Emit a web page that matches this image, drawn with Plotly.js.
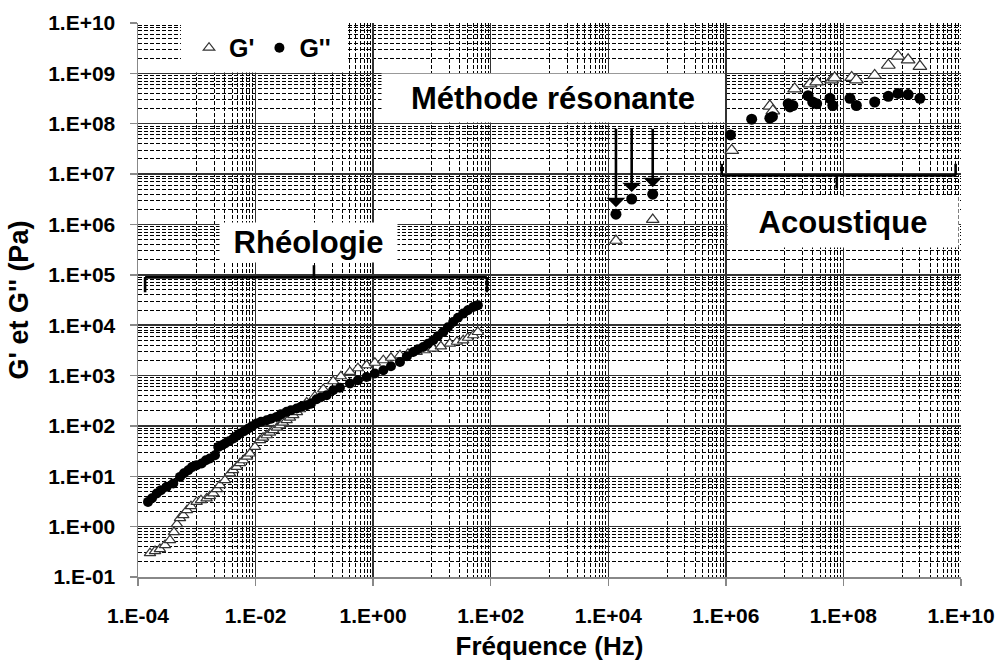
<!DOCTYPE html>
<html>
<head>
<meta charset="utf-8">
<script src="https://cdn.plot.ly/plotly-3.0.1.min.js"></script>
<style>html,body{margin:0;padding:0;background:#fff;}#chart{width:999px;height:661px;}</style>
</head>
<body>
<div id="chart"></div>
<script>
// ---- Rheology (G') ----
const rheoFreqGp = [1.60e-4,1.95e-4,2.36e-4,2.88e-4,3.50e-4,4.09e-4,4.60e-4,5.18e-4,5.89e-4,6.81e-4,7.96e-4,9.95e-4,
  1.18e-3,1.47e-3,1.67e-3,1.91e-3,2.21e-3,2.48e-3,3.02e-3,3.67e-3,4.13e-3,4.78e-3,5.43e-3,6.18e-3,7.14e-3,8.04e-3,9.78e-3,
  1.19e-2,1.34e-2,1.55e-2,1.76e-2,2.00e-2,2.31e-2,2.60e-2,2.92e-2,3.38e-2,3.85e-2,4.38e-2,5.06e-2,5.69e-2,7.40e-2,
  0.102,0.142,0.209,0.283,0.403,0.551,0.774,1.07,1.49,2.01,2.86,3.91,5.50,7.60,10.5,14.2,20.2,26.6,34.0,40.9,50.4,60.5];
const rheoGp = [0.298,0.327,0.358,0.430,0.540,0.778,1.12,1.48,1.69,2.12,2.55,3.10,
  3.36,3.63,4.03,4.56,5.55,6.66,8.37,11.4,13.2,15.4,18.2,20.8,24.5,28.3,38.3,
  52.0,58.3,65.3,73.3,82.2,92.1,103,116,130,146,163,187,214,292,
  388,535,771,968,1178,1396,1600,1795,2014,2255,2529,2710,2938,3177,3436,3811,4315,4688,5012,5623,6310,7328];
// ---- Rheology (G'') ----
const rheoFreqGpp = [1.48e-4,1.73e-4,2.08e-4,2.46e-4,3.08e-4,3.98e-4,5.18e-4,6.05e-4,7.16e-4,8.28e-4,9.95e-4,
  1.21e-3,1.43e-3,1.67e-3,2.04e-3,2.32e-3,2.69e-3,3.02e-3,3.53e-3,4.18e-3,4.83e-3,5.43e-3,6.35e-3,7.52e-3,8.69e-3,
  1.04e-2,1.24e-2,1.55e-2,1.83e-2,2.29e-2,2.70e-2,3.38e-2,4.00e-2,5.00e-2,5.92e-2,7.40e-2,8.75e-2,
  0.109,0.129,0.162,0.209,0.272,0.403,0.551,0.774,1.07,1.49,2.01,2.86,3.76,4.81,5.78,7.11,8.55,
  10.5,12.6,15.6,18.7,23.0,27.7,34.0,40.9,50.4,60.5];
const rheoGpp = [3.10,3.67,4.56,5.30,6.16,7.19,9.72,11.5,13.2,15.2,16.6,
  17.9,20.8,22.5,26.2,38.3,41.4,44.8,49.7,56.2,64.0,70.7,78.5,88.7,98.6,
  112,121,130,139,151,171,190,205,221,240,258,276,
  339,371,406,511,573,693,807,938,1096,1274,1530,1862,2415,2938,3327,3690,4275,
  5012,6026,7328,9078,11560,14030,16980,19770,22970,24830];
// ---- Resonant method ----
const resoFreqGp = [1.35e4, 5.7e4];
const resoGp = [4.8e5, 1.25e6];
const resoFreqGpp = [1.35e4, 2.5e4, 5.7e4];
const resoGpp = [1.6e6, 3.2e6, 4.0e6];
// ---- Acoustics ----
const acouFreqGp = [1.26e6,5.6e6,6.3e6,1.48e7,2.7e7,3.5e7,6.3e7,7.1e7,1.38e8,1.66e8,3.4e8,5.8e8,8.5e8,1.26e9,2.0e9];
const acouGp = [2.95e7,2.24e8,1.8e8,4.9e8,6.2e8,6.8e8,7.4e8,8.1e8,8.3e8,7.4e8,9.1e8,1.45e9,2.2e9,1.86e9,1.38e9];
const acouFreqGpp = [1.2e6,2.75e6,5.6e6,6.2e6,1.15e7,1.23e7,1.38e7,2.5e7,3.0e7,3.5e7,5.9e7,6.6e7,1.29e8,1.66e8,3.4e8,5.8e8,8.5e8,1.26e9,2.0e9];
const acouGpp = [6.0e7,1.23e8,1.29e8,1.38e8,2.5e8,2.15e8,2.3e8,3.6e8,2.7e8,2.5e8,3.2e8,2.3e8,3.2e8,2.3e8,2.7e8,3.5e8,4.0e8,3.8e8,3.2e8];
// ---- Tick labels ----
const xTickVals = [1e-4,1e-2,1e0,1e2,1e4,1e6,1e8,1e10];
const xTickText = ['1.E-04','1.E-02','1.E+00','1.E+02','1.E+04','1.E+06','1.E+08','1.E+10'];
const yTickVals = [1e-1,1e0,1e1,1e2,1e3,1e4,1e5,1e6,1e7,1e8,1e9,1e10];
const yTickText = ['1.E-01','1.E+00','1.E+01','1.E+02','1.E+03','1.E+04','1.E+05','1.E+06','1.E+07','1.E+08','1.E+09','1.E+10'];

// minor grid positions
const xMinor = [];
[-3,-1,1,3,5,7,9].forEach(d => { for (let k=1;k<=9;k++) xMinor.push(k*Math.pow(10,d)); });
const yMinor = [];
for (let d=-1; d<=9; d++) { for (let k=2;k<=9;k++) yMinor.push(k*Math.pow(10,d)); }

const FONT = 'Liberation Sans, Arial, Helvetica, sans-serif';
const triMarker = (s) => ({symbol:'triangle-up', size:s, color:'#ffffff', line:{color:'#333333', width:1.2}});
const dotMarker = (s) => ({symbol:'circle', size:s, color:'#000000', line:{width:0}});

const traces = [
  {x:rheoFreqGp, y:rheoGp, mode:'markers', type:'scatter', name:"G'", legendgroup:'gp', marker:triMarker(10), cliponaxis:false},
  {x:rheoFreqGpp, y:rheoGpp, mode:'markers', type:'scatter', name:"G''", legendgroup:'gpp', marker:dotMarker(10), cliponaxis:false},
  {x:resoFreqGp, y:resoGp, mode:'markers', type:'scatter', name:"G'", legendgroup:'gp', showlegend:false, marker:triMarker(11)},
  {x:resoFreqGpp, y:resoGpp, mode:'markers', type:'scatter', name:"G''", legendgroup:'gpp', showlegend:false, marker:dotMarker(11)},
  {x:acouFreqGp, y:acouGp, mode:'markers', type:'scatter', name:"G'", legendgroup:'gp', showlegend:false, marker:triMarker(12)},
  {x:acouFreqGpp, y:acouGpp, mode:'markers', type:'scatter', name:"G''", legendgroup:'gpp', showlegend:false, marker:dotMarker(11)}
];

const L = Math.log10;
const arrowTop = 8.5e7;
const annotations = resoFreqGpp.map((f,i) => ({
  x: L(f), y: L(resoGpp[i]), xref:'x', yref:'y', ax: L(f), ay: L(arrowTop), axref:'x', ayref:'y',
  text:'', showarrow:true, arrowhead:1, arrowsize:1.2, arrowwidth:2.6, arrowcolor:'#000', standoff:7
}));
const labelFont = {family:FONT, size:31, color:'#000', weight:'bold'};
annotations.push(
  {xref:'paper', yref:'paper', x:0.504, y:0.8647, text:'Méthode résonante', showarrow:false, font:labelFont,
   bgcolor:'#ffffff', width:340, height:46, borderpad:1, xanchor:'center', yanchor:'middle'},
  {xref:'paper', yref:'paper', x:0.2071, y:0.6032, text:'Rhéologie', showarrow:false, font:labelFont,
   bgcolor:'#ffffff', width:175, height:37, borderpad:1, xanchor:'center', yanchor:'middle'},
  {xref:'paper', yref:'paper', x:0.8566, y:0.6402, text:'Acoustique', showarrow:false, font:labelFont,
   bgcolor:'#ffffff', width:228, height:48, borderpad:1, xanchor:'center', yanchor:'middle'}
);

const bl = {color:'#000', width:2.6};
const shapes = [
  // legend background
  {type:'rect', xref:'paper', yref:'paper', x0:0.0522, x1:0.2552, y0:0.9107, y1:1, fillcolor:'#ffffff', line:{width:0}, layer:'above'},
  // Rheology bracket
  {type:'line', xref:'x', yref:'y', x0:1.32e-4, x1:86, y0:8.9e4, y1:8.9e4, line:bl},
  {type:'line', xref:'x', yref:'y', x0:1.32e-4, x1:1.32e-4, y0:8.9e4, y1:4.5e4, line:bl},
  {type:'line', xref:'x', yref:'y', x0:86, x1:86, y0:8.9e4, y1:4.5e4, line:bl},
  {type:'line', xref:'x', yref:'y', x0:0.0984, x1:0.0984, y0:8.9e4, y1:1.55e5, line:bl},
  // Acoustique bracket
  {type:'line', xref:'x', yref:'y', x0:8.5e5, x1:8.1e9, y0:9.4e6, y1:9.4e6, line:bl},
  {type:'line', xref:'x', yref:'y', x0:8.5e5, x1:8.5e5, y0:9.4e6, y1:1.6e7, line:bl},
  {type:'line', xref:'x', yref:'y', x0:8.1e9, x1:8.1e9, y0:9.4e6, y1:1.6e7, line:bl},
  {type:'line', xref:'x', yref:'y', x0:7.7e7, x1:7.7e7, y0:9.4e6, y1:5.2e6, line:bl}
];

const tickFont = {family:FONT, size:21, color:'#000', weight:'bold'};
const minorCommon = {showgrid:true, gridcolor:'#000', gridwidth:1, griddash:'4px,2px', ticks:''};
const layout = {
  width:999, height:661,
  margin:{l:138, r:38, t:22.5, b:84},
  paper_bgcolor:'#fff', plot_bgcolor:'#fff',
  font:{family:FONT, color:'#000'},
  showlegend:true,
  legend:{x:0.062, y:0.955, xanchor:'left', yanchor:'middle', orientation:'h', bgcolor:'rgba(0,0,0,0)',
          font:{family:FONT, size:25, color:'#000', weight:'bold'}, borderwidth:0},
  xaxis:{type:'log', range:[-4,10], tickmode:'array', tickvals:xTickVals, ticktext:xTickText,
         tickfont:tickFont, ticks:'outside', ticklen:7, tickwidth:1.5, tickcolor:'#888',
         showline:true, linecolor:'#888', linewidth:1.5, zeroline:false,
         showgrid:true, gridcolor:'#333', gridwidth:1.5, ticklabelstandoff:12,
         minor:Object.assign({tickmode:'array', tickvals:xMinor}, minorCommon),
         title:{text:'Fréquence (Hz)', font:{family:FONT, size:26, color:'#000', weight:'bold'}, standoff:14},
         automargin:false},
  yaxis:{type:'log', range:[-1,10], tickmode:'array', tickvals:yTickVals, ticktext:yTickText,
         tickfont:tickFont, ticks:'outside', ticklen:7, tickwidth:1.5, tickcolor:'#888',
         showline:true, linecolor:'#888', linewidth:1.5, zeroline:false,
         showgrid:true, gridcolor:'#333', gridwidth:1.5, ticklabelstandoff:10,
         minor:Object.assign({tickmode:'array', tickvals:yMinor}, minorCommon),
         title:{text:"G' et G'' (Pa)", font:{family:FONT, size:27, color:'#000', weight:'bold'}, standoff:11},
         automargin:false},
  shapes:shapes,
  annotations:annotations
};
Plotly.newPlot('chart', traces, layout, {displayModeBar:false, staticPlot:true});
</script>
</body>
</html>
